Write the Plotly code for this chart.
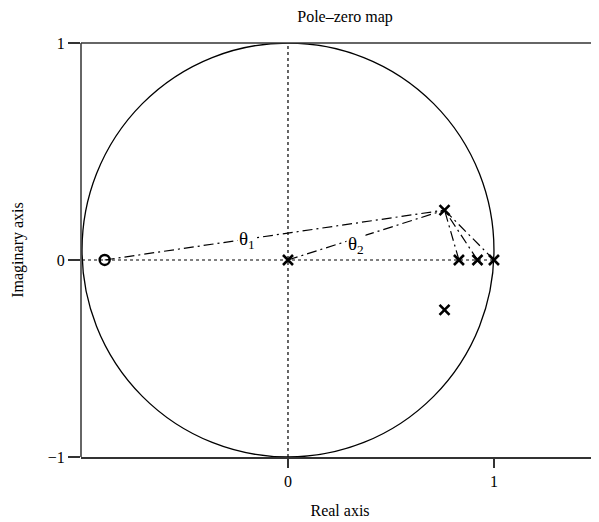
import plotly.graph_objects as go

# pole / zero locations
zero_re = [-0.89]
zero_im = [0.0]
pole_re = [0.0, 0.76, 0.76, 0.83, 0.92, 1.0]
pole_im = [0.0, 0.23, -0.23, 0.0, 0.0, 0.0]

# angle construction lines go to the upper pole
apex = (0.76, 0.23)
from_pts_re = [-0.89, 0.0, 0.83, 0.92, 1.0]
from_pts_im = [0.0, 0.0, 0.0, 0.0, 0.0]

theta_labels = ["θ<sub>1</sub>", "θ<sub>2</sub>"]
theta_x = [-0.2, 0.33]
theta_y = [0.09, 0.07]

y_ticks = [-0.908, 0, 1]
y_ticktext = ["\u22121", "0", "1"]
x_ticks = [0, 1]
y_low = -0.908

FONT = "Liberation Serif"

fig = go.Figure()

# dotted reference axes
fig.add_trace(go.Scatter(x=[-1.0, 1.0], y=[0, 0], mode="lines",
                         line=dict(color="black", width=1.2, dash="dot"),
                         hoverinfo="skip"))
fig.add_trace(go.Scatter(x=[0, 0], y=[y_low, 1], mode="lines",
                         line=dict(color="black", width=1.2, dash="dot"),
                         hoverinfo="skip"))

# dash-dot lines to the pole
for xr, yi in zip(from_pts_re, from_pts_im):
    fig.add_trace(go.Scatter(x=[xr, apex[0]], y=[yi, apex[1]], mode="lines",
                             line=dict(color="black", width=1.2, dash="10px,4px,2px,4px"),
                             hoverinfo="skip"))

fig.add_trace(go.Scatter(x=zero_re, y=zero_im, mode="markers",
                         marker=dict(symbol="circle-open", size=10, color="black",
                                     line=dict(width=2.4, color="black"))))
fig.add_trace(go.Scatter(x=pole_re, y=pole_im, mode="markers",
                         marker=dict(symbol="x-thin", size=10, color="black",
                                     line=dict(width=2.6, color="black"))))

# unit circle
fig.add_shape(type="circle", xref="x", yref="y", x0=-1, x1=1, y0=y_low, y1=1,
              line=dict(color="black", width=1.3), layer="below")

# frame: left and top edges
fig.add_shape(type="line", xref="paper", yref="paper", x0=0, x1=0, y0=0, y1=1,
              line=dict(color="#333", width=1.5))
fig.add_shape(type="line", xref="paper", yref="paper", x0=0, x1=1, y0=1, y1=1,
              line=dict(color="#333", width=1.5))

for t, tx, ty in zip(theta_labels, theta_x, theta_y):
    fig.add_annotation(x=tx, y=ty, text=t, showarrow=False,
                       font=dict(family=FONT, size=19, color="black"),
                       bgcolor="white")

fig.update_layout(
    width=599, height=522,
    margin=dict(l=73, r=8, t=35, b=73, autoexpand=False),
    plot_bgcolor="white", paper_bgcolor="white",
    showlegend=False,
    font=dict(family=FONT, size=16, color="black"),
    title=dict(text="Pole\u2013zero map", x=337 / 599, xanchor="center",
               yref="container", y=0.984, yanchor="middle",
               font=dict(family=FONT, size=16, color="black")),
)
fig.update_xaxes(range=[-1.005, 1.51], tickvals=x_ticks, ticktext=["0", "1"],
                 showgrid=False, zeroline=False, showline=True, mirror=False,
                 linecolor="#333", linewidth=1.5, ticks="outside", ticklen=9,
                 tickcolor="#333", tickwidth=1.5, automargin=False,
                 tickfont=dict(family=FONT, size=16, color="black"),
                 title=dict(text="Real axis", standoff=16,
                            font=dict(family=FONT, size=16, color="black")))
fig.update_yaxes(range=[y_low, 1], tickvals=y_ticks, ticktext=y_ticktext,
                 showgrid=False, zeroline=False, showline=False,
                 ticks="outside", ticklen=12,
                 tickcolor="#333", tickwidth=1.5, automargin=False,
                 tickfont=dict(family=FONT, size=16, color="black"),
                 title=dict(text="Imaginary axis", standoff=20,
                            font=dict(family=FONT, size=16, color="black")))

fig.write_html("out.html")
